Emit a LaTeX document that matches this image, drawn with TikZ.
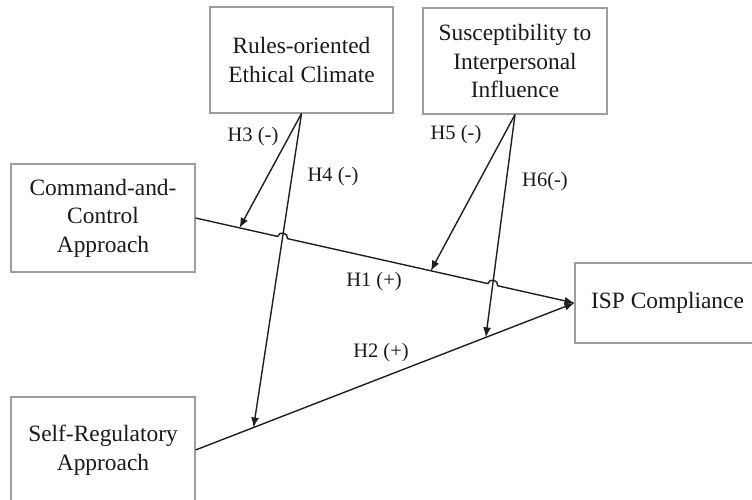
\documentclass[tikz,border=0pt]{standalone}
\usepackage{fontspec}
\setmainfont{Liberation Serif}
\usetikzlibrary{arrows.meta,calc,intersections}
\begin{document}
\begin{tikzpicture}[x=1pt,y=1pt,
  box/.style={draw=black!38,line width=1.1pt,inner sep=0pt,align=center,
    text=black!90,font=\fontsize{23.4}{28.5}\selectfont},
  lab/.style={inner sep=0pt,text=black!90,font=\fontsize{20.5}{24}\selectfont},
  conn/.style={draw=black!88,line width=1.4pt},
  arr/.style={conn,-{Latex[length=10pt,width=8pt]}}]
\useasboundingbox (0,0) rectangle (752,-500);
\clip (0,0) rectangle (752,-500);
\node[box,minimum width=183pt,minimum height=106pt] (rules) at (301.5,-60) {Rules-oriented\\Ethical Climate};
\node[box,minimum width=184pt,minimum height=106pt] (susc) at (515,-61) {Susceptibility to\\Interpersonal\\Influence};
\node[box,minimum width=184pt,minimum height=108pt] (cc) at (103,-218) {Command-and-\\Control\\Approach};
\node[box,minimum width=184pt,minimum height=106pt] (sr) at (103,-450) {Self-Regulatory\\Approach};
\node[box,minimum width=185pt,minimum height=80pt] (isp) at (667.5,-303) {ISP Compliance};
% target points on the main paths
\coordinate (t3) at ($(cc.east)!0.116!(isp.west)$);
\coordinate (t5) at ($(cc.east)!0.621!(isp.west)$);
\coordinate (t4) at ($(sr.east)!0.153!(isp.west)$);
\coordinate (t6) at ($(sr.east)!0.766!(isp.west)$);
\path[name path=h1] (cc.east) -- (isp.west);
\path[name path=h4] (rules.south) -- (t4);
\path[name path=h6] (susc.south) -- (t6);
\path[name intersections={of=h1 and h4,by=j1}];
\path[name intersections={of=h1 and h6,by=j2}];
\coordinate (a1) at ($(j1)!5pt!(cc.east)$);
\coordinate (b1) at ($(j1)!5pt!(isp.west)$);
\coordinate (a2) at ($(j2)!5pt!(cc.east)$);
\coordinate (b2) at ($(j2)!5pt!(isp.west)$);
% H1 with bridges
\draw[arr] (cc.east) -- (a1)
  .. controls ($(a1)!6pt!90:(j1)$) and ($(b1)!6pt!-90:(j1)$) .. (b1)
  -- (a2)
  .. controls ($(a2)!6pt!90:(j2)$) and ($(b2)!6pt!-90:(j2)$) .. (b2)
  -- (isp.west);
\draw[arr] (sr.east) -- (isp.west);
\draw[arr] (rules.south) -- (t3);
\draw[arr] (rules.south) -- (t4);
\draw[arr] (susc.south) -- (t5);
\draw[arr] (susc.south) -- (t6);
\node[lab] (l3) at (253,-137) {H3 (-)};
\node[lab] (l4) at (333,-177) {H4 (-)};
\node[lab] (l5) at (456,-135) {H5 (-)};
\node[lab] (l6) at (545,-182) {H6(-)};
\node[lab] (l1) at (374,-282) {H1 (+)};
\node[lab] (l2) at (381,-353) {H2 (+)};
\end{tikzpicture}
\end{document}
